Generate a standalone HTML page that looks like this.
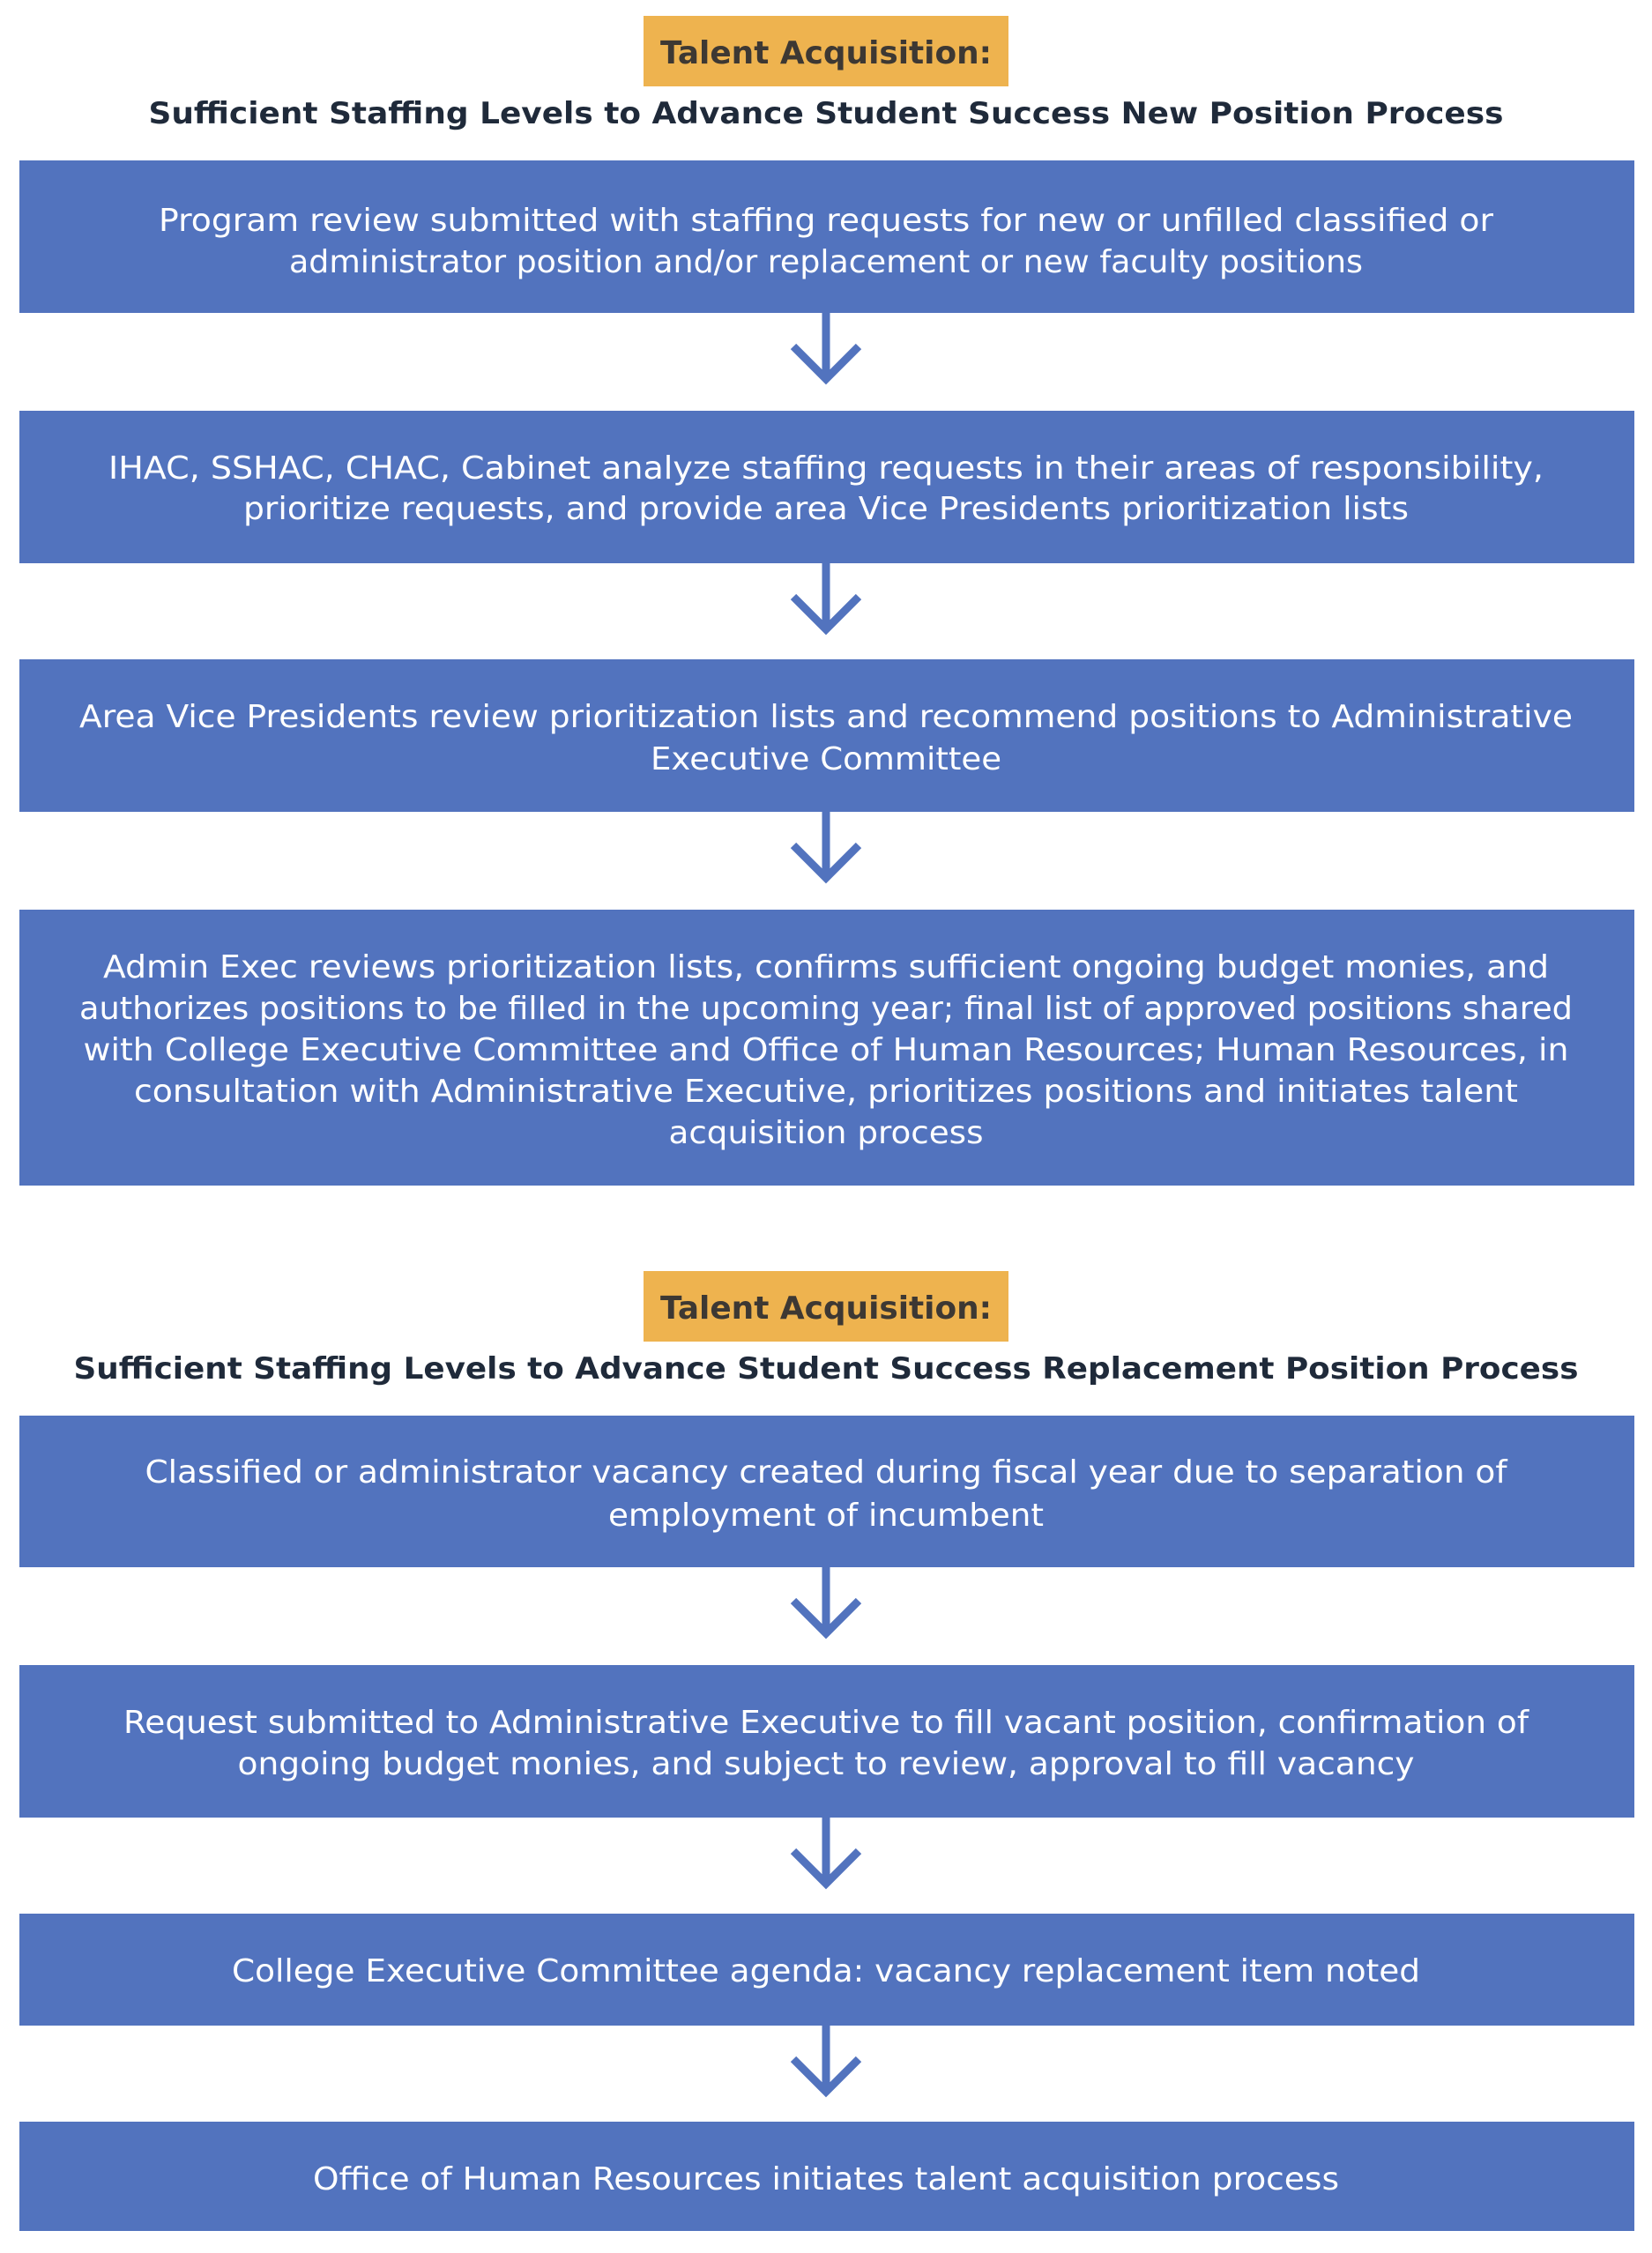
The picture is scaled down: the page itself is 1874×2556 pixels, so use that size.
<!DOCTYPE html>
<html><head><meta charset="utf-8"><style>
html,body{margin:0;padding:0;background:#fff;}
svg{display:block;}
text{font-family:"DejaVu Sans","Liberation Sans",sans-serif;}
.b{fill:#fff;font-size:36px;}
.t{fill:#1f2a3a;font-size:34px;font-weight:bold;}
.l{fill:#3d3833;font-size:36px;font-weight:bold;}
</style></head><body>
<svg width="1874" height="2556" viewBox="0 0 1874 2556" xmlns="http://www.w3.org/2000/svg">
<g fill="#5273be">
<rect x="22" y="182" width="1832" height="173"/>
<rect x="22" y="466" width="1832" height="173"/>
<rect x="22" y="748" width="1832" height="173"/>
<rect x="22" y="1032" width="1832" height="313"/>
<rect x="22" y="1606" width="1832" height="172"/>
<rect x="22" y="1889" width="1832" height="173"/>
<rect x="22" y="2171" width="1832" height="127"/>
<rect x="22" y="2407" width="1832" height="124"/>
</g>
<g fill="#eeb34f">
<rect x="730" y="18" width="414" height="80"/>
<rect x="730" y="1442" width="414" height="80"/>
</g>
<g stroke="#5273be" stroke-width="9" fill="none">
<path d="M937 355V431M900 393L937 430L974 393"/>
<path d="M937 639V715M900 677L937 714L974 677"/>
<path d="M937 921V997M900 959L937 996L974 959"/>
<path d="M937 1778V1854M900 1816L937 1853L974 1816"/>
<path d="M937 2062V2138M900 2100L937 2137L974 2100"/>
<path d="M937 2298V2374M900 2336L937 2373L974 2336"/>
</g>
<g text-anchor="middle">
<text class="l" x="937" y="72" textLength="376" lengthAdjust="spacingAndGlyphs">Talent Acquisition:</text>
<text class="t" x="937" y="140" textLength="1537" lengthAdjust="spacingAndGlyphs">Sufficient Staffing Levels to Advance Student Success New Position Process</text>
<text class="b" x="937" y="262" textLength="1514" lengthAdjust="spacingAndGlyphs">Program review submitted with staffing requests for new or unfilled classified or</text>
<text class="b" x="937" y="309" textLength="1218" lengthAdjust="spacingAndGlyphs">administrator position and/or replacement or new faculty positions</text>
<text class="b" x="937" y="543" textLength="1628" lengthAdjust="spacingAndGlyphs">IHAC, SSHAC, CHAC, Cabinet analyze staffing requests in their areas of responsibility,</text>
<text class="b" x="937" y="589" textLength="1322" lengthAdjust="spacingAndGlyphs">prioritize requests, and provide area Vice Presidents prioritization lists</text>
<text class="b" x="937" y="825" textLength="1694" lengthAdjust="spacingAndGlyphs">Area Vice Presidents review prioritization lists and recommend positions to Administrative</text>
<text class="b" x="937" y="873" textLength="398" lengthAdjust="spacingAndGlyphs">Executive Committee</text>
<text class="b" x="937" y="1109" textLength="1640" lengthAdjust="spacingAndGlyphs">Admin Exec reviews prioritization lists, confirms sufficient ongoing budget monies, and</text>
<text class="b" x="937" y="1156" textLength="1694" lengthAdjust="spacingAndGlyphs">authorizes positions to be filled in the upcoming year; final list of approved positions shared</text>
<text class="b" x="937" y="1203" textLength="1685" lengthAdjust="spacingAndGlyphs">with College Executive Committee and Office of Human Resources; Human Resources, in</text>
<text class="b" x="937" y="1250" textLength="1570" lengthAdjust="spacingAndGlyphs">consultation with Administrative Executive, prioritizes positions and initiates talent</text>
<text class="b" x="937" y="1297" textLength="357" lengthAdjust="spacingAndGlyphs">acquisition process</text>
<text class="l" x="937" y="1496" textLength="376" lengthAdjust="spacingAndGlyphs">Talent Acquisition:</text>
<text class="t" x="937" y="1564" textLength="1707" lengthAdjust="spacingAndGlyphs">Sufficient Staffing Levels to Advance Student Success Replacement Position Process</text>
<text class="b" x="937" y="1682" textLength="1545" lengthAdjust="spacingAndGlyphs">Classified or administrator vacancy created during fiscal year due to separation of</text>
<text class="b" x="937" y="1731" textLength="494" lengthAdjust="spacingAndGlyphs">employment of incumbent</text>
<text class="b" x="937" y="1966" textLength="1594" lengthAdjust="spacingAndGlyphs">Request submitted to Administrative Executive to fill vacant position, confirmation of</text>
<text class="b" x="937" y="2013" textLength="1335" lengthAdjust="spacingAndGlyphs">ongoing budget monies, and subject to review, approval to fill vacancy</text>
<text class="b" x="937" y="2248" textLength="1348" lengthAdjust="spacingAndGlyphs">College Executive Committee agenda: vacancy replacement item noted</text>
<text class="b" x="937" y="2484" textLength="1164" lengthAdjust="spacingAndGlyphs">Office of Human Resources initiates talent acquisition process</text>
</g>
</svg>
</body></html>
